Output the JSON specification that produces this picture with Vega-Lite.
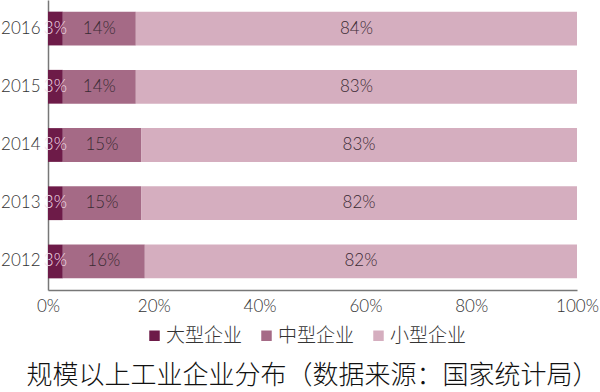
{
  "$schema": "https://vega.github.io/schema/vega-lite/v6.json",
  "width": 529,
  "height": 290,
  "autosize": {"type": "none"},
  "padding": {"left": 48, "top": 0, "right": 23, "bottom": 102},
  "background": "white",
  "config": {"view": {"stroke": null}, "font": "Lato"},
  "title": {"text": "规模以上工业企业分布（数据来源：国家统计局）", "orient": "bottom", "anchor": "middle", "font": "Noto Sans CJK SC", "fontSize": 26, "fontWeight": 300, "color": "#111", "offset": 17},
  "data": {"values": [
    {"year": "2016", "type": "大型企业", "value": 2.8, "label": "3%"},
    {"year": "2016", "type": "中型企业", "value": 13.8, "label": "14%"},
    {"year": "2016", "type": "小型企业", "value": 83.4, "label": "84%"},
    {"year": "2015", "type": "大型企业", "value": 2.8, "label": "3%"},
    {"year": "2015", "type": "中型企业", "value": 13.8, "label": "14%"},
    {"year": "2015", "type": "小型企业", "value": 83.4, "label": "83%"},
    {"year": "2014", "type": "大型企业", "value": 2.8, "label": "3%"},
    {"year": "2014", "type": "中型企业", "value": 14.8, "label": "15%"},
    {"year": "2014", "type": "小型企业", "value": 82.4, "label": "83%"},
    {"year": "2013", "type": "大型企业", "value": 2.8, "label": "3%"},
    {"year": "2013", "type": "中型企业", "value": 14.8, "label": "15%"},
    {"year": "2013", "type": "小型企业", "value": 82.4, "label": "82%"},
    {"year": "2012", "type": "大型企业", "value": 2.8, "label": "3%"},
    {"year": "2012", "type": "中型企业", "value": 15.5, "label": "16%"},
    {"year": "2012", "type": "小型企业", "value": 81.7, "label": "82%"}
  ]},
  "encoding": {
    "y": {"field": "year", "type": "nominal", "sort": "descending", "title": null,
      "scale": {"paddingInner": 0.42, "paddingOuter": 0.2},
      "axis": {"domainColor": "#777", "domainWidth": 1.5, "ticks": false, "labelPadding": 8, "labelFontSize": 17, "labelFont": "Lato", "labelFontWeight": 300, "labelColor": "#333"}},
    "order": {"field": "ord", "type": "quantitative"}
  },
  "transform": [{"lookup": "type", "from": {"data": {"values": [{"type": "大型企业", "ord": 1}, {"type": "中型企业", "ord": 2}, {"type": "小型企业", "ord": 3}]}, "key": "type", "fields": ["ord"]}}],
  "layer": [
    {
      "mark": {"type": "bar"},
      "encoding": {
        "x": {"field": "value", "type": "quantitative", "stack": "normalize", "title": null,
          "scale": {"domain": [0, 1], "nice": false},
          "axis": {"format": ".0%", "values": [0, 0.2, 0.4, 0.6, 0.8, 1], "grid": false, "ticks": false, "domainColor": "#777", "domainWidth": 1.5, "labelPadding": 8, "labelFontSize": 17, "labelFont": "Lato", "labelFontWeight": 300, "labelColor": "#333", "labelFlush": false}},
        "color": {"field": "type", "type": "nominal", "title": null,
          "sort": ["大型企业", "中型企业", "小型企业"],
          "scale": {"domain": ["大型企业", "中型企业", "小型企业"], "range": ["#6d1b48", "#a56a86", "#d5aebf"]},
          "legend": {"orient": "none", "legendX": 97, "legendY": 326, "direction": "horizontal", "symbolType": "square", "symbolSize": 110, "symbolStrokeWidth": 0, "labelFont": "Noto Sans CJK SC", "labelFontWeight": 300, "labelFontSize": 19, "labelColor": "#333", "columnPadding": 14, "labelOffset": 2}}
      }
    },
    {
      "mark": {"type": "text", "fontSize": 17, "font": "Lato", "fontWeight": 300},
      "encoding": {
        "x": {"field": "value", "type": "quantitative", "stack": "normalize", "bandPosition": 0.5},
        "text": {"field": "label"},
        "color": {"condition": {"test": "datum.type === '大型企业'", "value": "#f3dde8"}, "value": "#3a2a33"}
      }
    }
  ]
}
